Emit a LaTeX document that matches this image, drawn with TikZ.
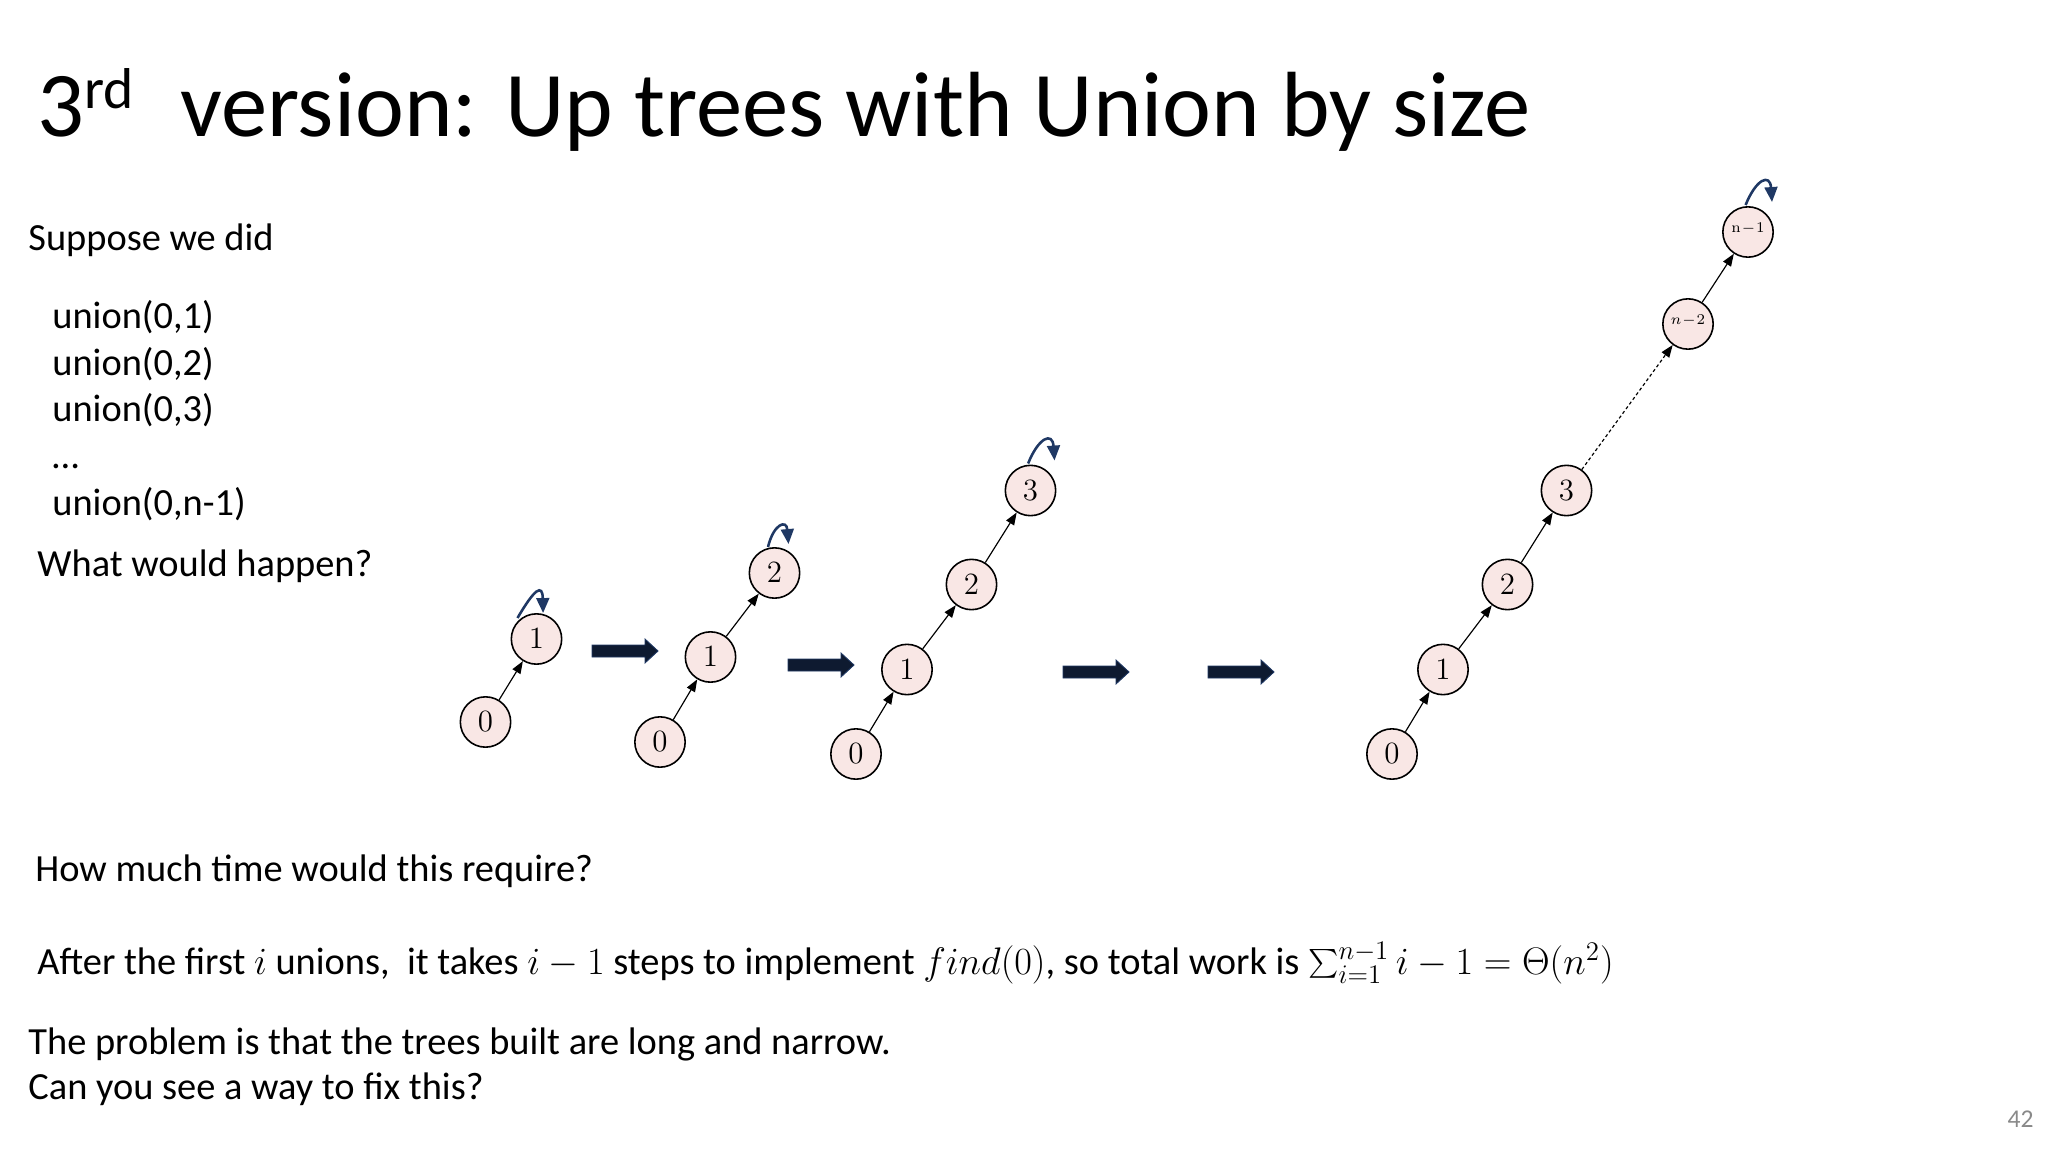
\RequirePackage{fix-cm}
\documentclass[tikz,border=0pt]{standalone}
\usepackage[no-math]{fontspec}
\setmainfont{Carlito}
\usetikzlibrary{arrows.meta}
\definecolor{nodefill}{RGB}{249,231,229}
\definecolor{loopblue}{RGB}{31,56,100}
\definecolor{bigarrow}{RGB}{14,26,48}
\definecolor{pgnum}{RGB}{137,137,137}
\begin{document}
\begin{tikzpicture}[x=0.46875pt,y=-0.46875pt,
  vtx/.style={circle,draw=black,line width=0.75pt,fill=nodefill,minimum size=23.6pt,inner sep=0pt,font=\fontsize{14.5}{14.5}\selectfont},
  smallvtx/.style={vtx,font=\fontsize{7}{7}\selectfont},
  edgearr/.style={-{Triangle[length=5.8pt,width=4.3pt]},line width=0.55pt,black},
  dotarr/.style={edgearr,dash pattern=on 1.5pt off 1.2pt},
  loopline/.style={-{Triangle[length=7pt,width=6pt]},line width=1.2pt,loopblue},
  txt/.style={anchor=base west,inner sep=0pt,font=\fontsize{18}{21.6}\selectfont},
  blockarr/.pic={\fill[bigarrow,draw=loopblue,line width=0.4pt] (-33,-6) -- (20,-6) -- (20,-12) -- (33,0) -- (20,12) -- (20,6) -- (-33,6) -- cycle;}
]
\useasboundingbox (0,0) rectangle (2048,1152);

% title
\node[anchor=base west,inner sep=0pt,font=\fontsize{43.4}{52}\selectfont] (title) at (37,137)
  {3\raisebox{13.5pt}{\fontsize{27}{27}\selectfont rd}\ \ \kern2pt version: Up trees with Union by size};

% left text
\node[txt] (suppose) at (28,251) {Suppose we did};
\node[txt] (u1) at (52,329) {union(0,1)};
\node[txt] (u2) at (52,375) {union(0,2)};
\node[txt] (u3) at (52,421) {union(0,3)};
\node[txt] (dots) at (52,468) {\dots};
\node[txt] (un) at (52,515) {union(0,n-1)};
\node[txt] (what) at (37,576) {What would happen?};
\node[txt] (how) at (35,881) {How much time would this require?};
\node[txt] (work) at (37,974) {After the first $i$ unions,~ it takes $i-1$ steps to implement $find(0)$, so total work is $\mathop{\raisebox{-1.2pt}{\scalebox{1.35}{$\sum$}}}\nolimits_{i=1}^{n-1} i-1=\Theta(n^2)$};
\node[txt] (prob) at (28,1054) {The problem is that the trees built are long and narrow.};
\node[txt] (fix) at (28,1099) {Can you see a way to fix this?};
\node[anchor=base east,inner sep=0pt,font=\fontsize{12}{12}\selectfont,text=pgnum] (pg) at (2034,1127) {42};

% tree 1
\node[vtx] (a0) at (485.5,722) {$0$};
\node[vtx] (a1) at (536.5,639) {$1$};
\draw[edgearr] (a0) -- (a1);
\draw[loopline] ([shift={(-19,-21)}]a1.center) .. controls ([shift={(-2,-50)}]a1.center) and ([shift={(6,-56)}]a1.center) .. ([shift={(6.6,-26)}]a1.center);

% tree 2
\node[vtx] (b0) at (660,742) {$0$};
\node[vtx] (b1) at (710.5,657) {$1$};
\node[vtx] (b2) at (774.5,573) {$2$};
\draw[edgearr] (b0) -- (b1);
\draw[edgearr] (b1) -- (b2);
\draw[loopline] ([shift={(-6.5,-26)}]b2.center) .. controls ([shift={(-1,-49)}]b2.center) and ([shift={(12,-54)}]b2.center) .. ([shift={(14,-29)}]b2.center);

% tree 3
\node[vtx] (c0) at (856,754) {$0$};
\node[vtx] (c1) at (907,669.5) {$1$};
\node[vtx] (c2) at (971.5,584.5) {$2$};
\node[vtx] (c3) at (1030.5,490.5) {$3$};
\draw[edgearr] (c0) -- (c1);
\draw[edgearr] (c1) -- (c2);
\draw[edgearr] (c2) -- (c3);
\draw[loopline] ([shift={(-2.4,-27)}]c3.center) .. controls ([shift={(8,-53)}]c3.center) and ([shift={(22,-59)}]c3.center) .. ([shift={(24,-30)}]c3.center);

% tree 4
\node[vtx] (d0) at (1392,754) {$0$};
\node[vtx] (d1) at (1443,669.5) {$1$};
\node[vtx] (d2) at (1507.5,584.5) {$2$};
\node[vtx] (d3) at (1566.5,490.5) {$3$};
\node[smallvtx] (dm) at (1688,324) {\raisebox{4pt}{$n\!-\!2$}};
\node[smallvtx] (dn) at (1748,232) {\raisebox{4.5pt}{$\mathrm{n}\!-\!1$}};
\draw[edgearr] (d0) -- (d1);
\draw[edgearr] (d1) -- (d2);
\draw[edgearr] (d2) -- (d3);
\draw[dotarr] (d3) -- (dm);
\draw[edgearr] (dm) -- (dn);
\draw[loopline] ([shift={(-2.4,-27)}]dn.center) .. controls ([shift={(8,-53)}]dn.center) and ([shift={(22,-59)}]dn.center) .. ([shift={(24,-30)}]dn.center);

% block arrows
\pic at (625,651) {blockarr};
\pic at (821,665) {blockarr};
\pic at (1096,672) {blockarr};
\pic at (1241,672) {blockarr};
\end{tikzpicture}
\end{document}
